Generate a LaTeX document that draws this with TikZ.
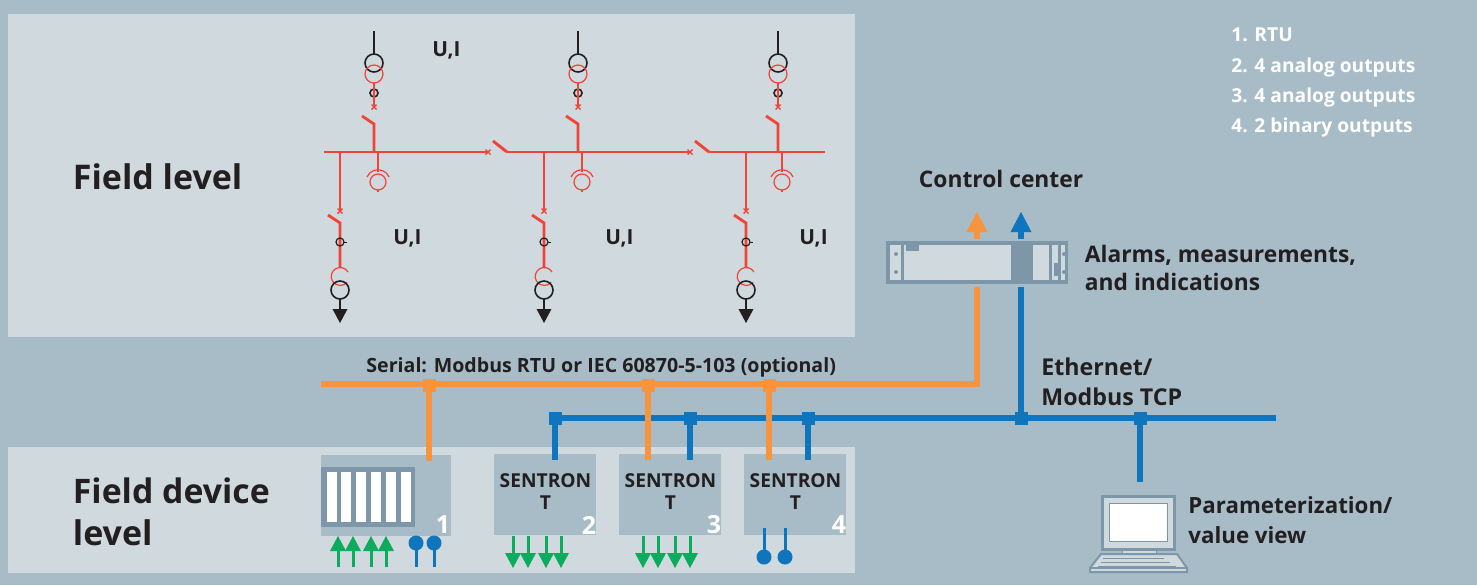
\documentclass[tikz,border=0pt]{standalone}
\usepackage{fontspec}
\setmainfont{Open Sans}
\definecolor{bg}{HTML}{A7BCC7}
\definecolor{panel}{HTML}{D0D9DE}
\definecolor{dk}{HTML}{7D97A8}
\definecolor{rd}{HTML}{F04438}
\definecolor{org}{HTML}{F7943D}
\definecolor{blu}{HTML}{0F75BC}
\definecolor{grn}{HTML}{0CAB5E}
\definecolor{ink}{HTML}{231F20}
\tikzset{
  x=0.5pt,y=-0.5pt,
  redthick/.style={draw=rd,line width=1.45pt},
  redthin/.style={draw=rd,line width=.6pt},
  blk/.style={draw=ink,line width=.8pt},
  txt/.style={text=ink,font=\bfseries\fontsize{#1}{#1}\selectfont,inner sep=0pt,anchor=west},
  txt/.default=11.4,
  whitetxt/.style={text=white,font=\bfseries\fontsize{9.6}{9.6}\selectfont,inner sep=0pt,anchor=west},
  num/.style={text=white,font=\bfseries\fontsize{12.5}{12.5}\selectfont,inner sep=0pt},
  devbox/.style={fill=bg,draw=none,inner sep=0pt,minimum width=51pt,minimum height=40.5pt,anchor=north west},
  sent/.style={text=ink,font=\bfseries\fontsize{9.6}{11}\selectfont,align=center,inner sep=0pt},
  orgline/.style={draw=org,line width=2.7pt},
  blueline/.style={draw=blu,line width=2.7pt},
  orgjn/.style={fill=org,inner sep=0pt,minimum size=6.5pt},
  bluejn/.style={fill=blu,inner sep=0pt,minimum size=6.5pt},
}
\newcommand{\xmark}[2]{\draw[draw=rd,line width=.7pt] (#1-2.5,#2-2.5) -- (#1+2.5,#2+2.5) (#1-2.5,#2+2.5) -- (#1+2.5,#2-2.5);}
\newcommand{\upgreen}[1]{\draw[draw=grn,line width=1.5pt] (#1,567) -- (#1,550); \fill[grn] (#1,536) -- (#1+8,551) -- (#1-8,551) -- cycle;}
\newcommand{\downgreen}[1]{\draw[draw=grn,line width=1.5pt] (#1,536) -- (#1,553); \fill[grn] (#1,568) -- (#1+8,553) -- (#1-8,553) -- cycle;}
\begin{document}
\begin{tikzpicture}
\path[use as bounding box,fill=bg] (0,0) rectangle (1477,585);
\fill[panel] (8,14) rectangle (855,337);
\fill[panel] (8,447) rectangle (855,573);
% bus bar
\draw[redthick] (324,152) -- (488,152);
\draw[redthick] (507,152) -- (690,152);
\draw[redthick] (709,152) -- (825,152);
\draw[redthick] (493,141) -- (507,152);
\draw[redthick] (695,141) -- (709,152);
\xmark{488}{152}
\xmark{690}{152}
% upper feeders
\foreach \t in {374,578,778}{
  \draw[blk,line width=1.1pt] (\t,31) -- (\t,54);
  \draw[blk] (\t,63) circle[radius=9];
  \draw[redthin] (\t,74) circle[radius=9];
  \draw[blk] (\t,93) circle[radius=4];
  \draw[redthick,line width=1.2pt] (\t,83) -- (\t,106);
  \xmark{\t}{107}
  \draw[redthick] (\t-12,116) -- (\t,124) -- (\t,152);
  \draw[redthin] (\t+4,152) -- (\t+4,172);
  \draw[redthin] (\t+4,182) circle[radius=8];
  \draw[redthin] (\t+4,190) -- (\t+4,192);
  \draw[redthin] (\t-7,177) arc[start angle=203,end angle=337,radius=12];
}
% lower feeders
\foreach \b in {340,544,746}{
  \draw[redthick] (\b,152) -- (\b,210);
  \xmark{\b}{211}
  \draw[redthick] (\b-12,215) -- (\b,223) -- (\b,268);
  \draw[blk,line width=.6pt] (\b,242) circle[radius=4];
  \draw[blk,line width=.5pt] (\b+4,242) -- (\b+7,242);
  \draw[redthin] (\b+8,272) arc[start angle=-30,end angle=-320,radius=9];
  \draw[blk] (\b,290) circle[radius=9];
  \draw[blk,line width=1.4pt] (\b,299) -- (\b,310);
  \fill[ink] (\b-7.5,309) -- (\b+7.5,309) -- (\b,323) -- cycle;
}
% labels field
\node[txt=10.4] (ui1) at (432,50) {U,I};
\node[txt=10.4] (ui2) at (393,238) {U,I};
\node[txt=10.4] (ui3) at (605,238) {U,I};
\node[txt=10.4] (ui4) at (799,238) {U,I};
\node[txt=17] (fl) at (72.5,177) {Field level};
\node[txt=16.9] (fd1) at (72.5,491) {Field device};
\node[txt=17] (fd2) at (72.5,533) {level};
% top right list
\node[whitetxt] (l1) at (1231,35) {1. RTU};
\node[whitetxt] (l2) at (1231,68) {2. 4 analog outputs};
\node[whitetxt] (l3) at (1231,98) {3. 4 analog outputs};
\node[whitetxt] (l4) at (1231,128) {4. 2 binary outputs};
% RTU
\node[txt] (cc) at (918.5,179) {Control center};
\node[txt] (am1) at (1084.5,255) {Alarms, measurements,};
\node[txt] (am2) at (1084.5,282) {and indications};
\fill[dk] (886,241) rectangle (1068,284);
\fill[panel] (890,245) rectangle (901,280);
\fill[panel] (904,245) rectangle (1011,280);
\fill[panel] (1033,245) rectangle (1049,280);
\fill[panel] (1052,245) rectangle (1058,280);
\fill[panel] (1061,245) rectangle (1065,280);
\fill[dk] (906,245) rectangle (919,251);
\fill[dk] (1054,263) rectangle (1060,276);
\foreach \y in {254,272}{\fill[dk] (896,\y) circle[radius=2]; \fill[dk] (1064,\y) circle[radius=2];}
\coordinate (rtuo) at (977,287);
\coordinate (rtub) at (1021,287);
\coordinate (upo) at (977,239);
\coordinate (upb) at (1021,239);
\draw[orgline] (upo) -- (977,230);
\fill[org] (966.5,232) -- (987.5,232) -- (977,212) -- cycle;
\draw[blueline] (upb) -- (1021,230);
\fill[blu] (1010.5,232) -- (1031.5,232) -- (1021,212) -- cycle;
% device boxes
\node[devbox,minimum width=65pt] (b1) at (321,455) {};
\node[devbox] (b2) at (494,454) {};
\node[devbox] (b3) at (619,454) {};
\node[devbox] (b4) at (744,454) {};
\fill[dk] (321,467) rectangle (415,527);
\foreach \s in {327,341,356,371,386,401}{\fill[white] (\s,472) rectangle (\s+10,522);}
\foreach \c/\n in {545.5/b2s,670.5/b3s,795.5/b4s}{\node[sent] (\n) at (\c,492) {SENTRON\\T};}
\node[num] (n1) at (443,525) {1};
\node[num] (n2) at (589,525) {2};
\node[num] (n3) at (714,525) {3};
\node[num] (n4) at (839,525) {4};
% serial and ethernet
\node[txt=9.8] (ser) at (366,367) {Serial: Modbus RTU or IEC 60870-5-103 (optional)};
\node[txt=11.6] (eth1) at (1041,367) {Ethernet/};
\node[txt=11.6] (eth2) at (1041,397) {Modbus TCP};
\coordinate (os) at (321,384);
\coordinate (be) at (1276,418);
\node[bluejn] (j1) at (555,418) {};
\node[bluejn] (j2) at (690,418) {};
\node[bluejn] (j3) at (808,418) {};
\node[bluejn] (j4) at (1021,418) {};
\node[bluejn] (j5) at (1140,418) {};
\draw[blueline] (j1.center) -- (be);
\draw[blueline] (rtub) -- (j4.center);
\draw[blueline] (j1.center) -- (555,460);
\draw[blueline] (j2.center) -- (690,460);
\draw[blueline] (j3.center) -- (808,460);
\draw[blueline] (j5.center) -- (1140,482);
\node[orgjn] (o1) at (429,385) {};
\node[orgjn] (o2) at (648,385) {};
\node[orgjn] (o3) at (769,385) {};
\draw[orgline] (os) -- (977,384) -- (rtuo);
\draw[orgline] (o1.center) -- (429,461);
\draw[orgline] (o2.center) -- (648,460);
\draw[orgline] (o3.center) -- (769,460);
% IO
\foreach \x in {338,353,371,386}{\upgreen{\x}}
\foreach \x in {513,528,546,561,643,658,675,690}{\downgreen{\x}}
\foreach \x in {416,434}{
  \draw[blu,line width=1.5pt] (\x,543) -- (\x,567);
  \fill[blu] (\x,543) circle[radius=7.5];
}
\foreach \x in {764,785}{
  \draw[blu,line width=1.5pt] (\x,528) -- (\x,557);
  \fill[blu] (\x,557) circle[radius=7.5];
}
% laptop
\fill[dk] (1101,495) rectangle (1176,551);
\fill[panel] (1104,498) rectangle (1173,548);
\fill[dk] (1109,503) rectangle (1168,542);
\fill[white] (1110,504) rectangle (1167,541);
\fill[panel,draw=dk,line width=.4pt] (1122,550) rectangle (1156,553);
\fill[panel,draw=dk,line width=1pt] (1101,554) -- (1177,554) -- (1187,568) -- (1187,572) -- (1090,572) -- (1090,568) -- cycle;
\foreach \a/\b/\y in {1103/1164/558,1101/1170/562,1098/1176/566}{\draw[dk,line width=.5pt] (\a,\y) -- (\b,\y);}
\draw[dk,line width=.7pt] (1090,568) -- (1187,568);
\node[txt=11.15] (pv1) at (1188,505) {Parameterization/};
\node[txt=11.15] (pv2) at (1188,535) {value view};
\end{tikzpicture}
\end{document}
